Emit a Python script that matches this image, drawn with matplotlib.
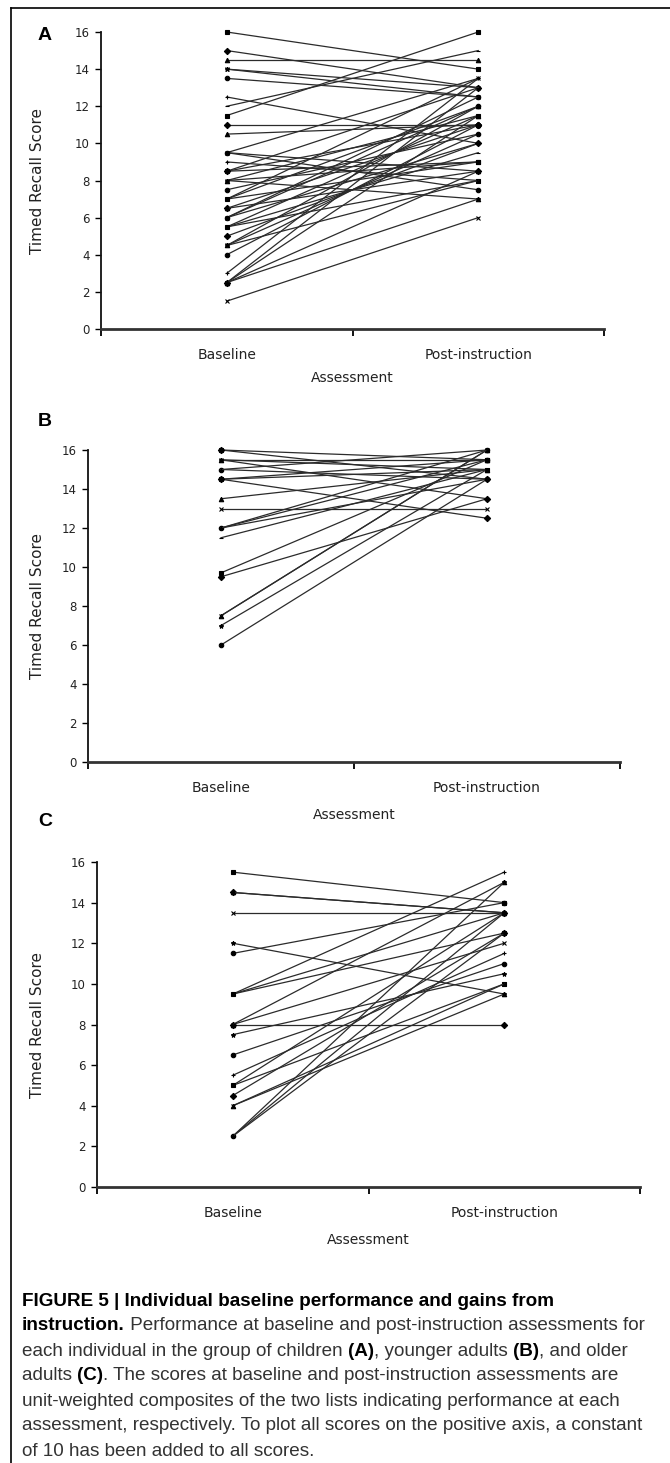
import numpy as np
import matplotlib.pyplot as plt
import matplotlib
from matplotlib.lines import Line2D

matplotlib.rcParams.update({
    "font.family": "DejaVu Sans",
    "axes.linewidth": 1.3,
})

# --- data: (baseline, post-instruction) per individual ---
a_base = [16, 15, 14.5, 14, 14, 13.5, 12.5, 12, 11.5, 11, 10.5, 9.5, 9.5, 9.5, 9,
          8.5, 8.5, 8.5, 8, 8, 8, 7.5, 7, 7, 7, 6.5, 6.5, 6, 6, 6, 5.5, 5.5, 5.5,
          5, 4.5, 4.5, 4.5, 4, 3, 2.5, 2.5, 2.5, 2.5, 1.5]
a_post = [14, 13, 14.5, 13, 12.5, 12.5, 10, 15, 16, 11, 11, 13.5, 8.5, 7.5, 8,
          13, 9, 11, 11.5, 9, 7, 10.5, 12, 13.5, 9, 11, 8.5, 12.5, 10, 12, 11.5, 9.5, 8,
          10, 12, 8, 10.5, 11, 13.5, 13, 11.5, 8.5, 7, 6]

b_base = [16, 16, 15.5, 15.5, 15.5, 15, 15, 14.5, 14.5, 14.5, 13.5, 13, 12, 12, 12,
          11.5, 9.7, 9.5, 7.5, 7.5, 7, 6]
b_post = [15.5, 14.5, 15.5, 15, 13.5, 16, 14.5, 15.5, 15, 12.5, 15, 13, 16, 15.5, 14.5,
          15, 15.5, 13.5, 16, 16, 15, 14.5]

c_base = [15.5, 14.5, 14.5, 13.5, 12, 11.5, 9.5, 9.5, 9.5, 8, 8, 8, 7.5, 6.5, 5.5,
          5, 5, 4.5, 4, 4, 2.5, 2.5, 2.5]
c_post = [14, 13.5, 13.5, 13.5, 9.5, 14, 15.5, 13.5, 12.5, 8, 15, 12, 10.5, 11, 11.5,
          13.5, 10, 12.5, 9.5, 10, 15, 13.5, 12.5]

panels = [
    ("A", a_base, a_post),
    ("B", b_base, b_post),
    ("C", c_base, c_post),
]
categories = ["Baseline", "Post-instruction"]
yticks = [0, 2, 4, 6, 8, 10, 12, 14, 16]

W, H = 670, 1463
# axes boxes in pixels: left, right, top(16), bottom(0)
boxes = [(101, 604, 32, 329), (88, 620, 450, 762), (97, 640, 862, 1187)]
letter_y = [35, 422, 822]
xlabel_y = [378, 815, 1240]

markers = ['s', 'D', '^', 'x', '*', 'o', '+', '_']

fig = plt.figure(figsize=(W / 100, H / 100), dpi=100)

for (letter, base, post), (l, r, t, b), ly, xly in zip(panels, boxes, letter_y, xlabel_y):
    ax = fig.add_axes([l / W, 1 - b / H, (r - l) / W, (b - t) / H])
    for i, (y0, y1) in enumerate(zip(base, post)):
        ax.plot([0.5, 1.5], [y0, y1], color='#2b2b2b', lw=0.9,
                marker=markers[i % len(markers)], ms=3.2, mew=0.8,
                mfc='black', mec='black', clip_on=False)
    ax.set_xlim(0, 2)
    ax.set_ylim(0, 16)
    for s in ['top', 'right']:
        ax.spines[s].set_visible(False)
    ax.spines['left'].set_color('#111111')
    ax.spines['bottom'].set_color('#333333')
    ax.spines['bottom'].set_linewidth(2.0)
    ax.set_yticks(yticks)
    ax.tick_params(axis='y', direction='out', length=4, width=1, labelsize=8.5,
                   labelcolor='#222222', pad=4)
    # category boundaries as major ticks, names as minor labels
    ax.set_xticks([0, 1, 2])
    ax.set_xticklabels([])
    ax.set_xticks([0.5, 1.5], minor=True)
    ax.set_xticklabels(categories, minor=True)
    ax.tick_params(axis='x', which='major', direction='out', length=5, width=1.3)
    ax.tick_params(axis='x', which='minor', length=0, labelsize=10,
                   labelcolor='#222222', pad=14)
    ax.set_ylabel("Timed Recall Score", fontsize=11, color='#222222')
    ax.yaxis.set_label_coords((45 - l) / (r - l), 0.5)
    ax.set_xlabel("Assessment", fontsize=10, color='#222222')
    ax.xaxis.set_label_coords(0.5, -(xly - b) / (b - t))
    ax.xaxis.label.set_va('center')
    fig.text(45 / W, 1 - ly / H, letter, fontsize=14, fontweight='bold',
             family='Liberation Sans', ha='center', va='center')

# frame around the figure (left and top edges)
fig.add_artist(Line2D([11 / W, 11 / W], [0, 1 - 8 / H], color='black', lw=1.2,
                      transform=fig.transFigure))
fig.add_artist(Line2D([11 / W, 1], [1 - 8 / H, 1 - 8 / H], color='black', lw=1.2,
                      transform=fig.transFigure))

# caption, with bold parts
caption_lines = [
    [("FIGURE 5 | Individual baseline performance and gains from", True)],
    [("instruction.", True), (" Performance at baseline and post-instruction assessments for", False)],
    [("each individual in the group of children ", False), ("(A)", True), (", younger adults ", False),
     ("(B)", True), (", and older", False)],
    [("adults ", False), ("(C)", True), (". The scores at baseline and post-instruction assessments are", False)],
    [("unit-weighted composites of the two lists indicating performance at each", False)],
    [("assessment, respectively. To plot all scores on the positive axis, a constant", False)],
    [("of 10 has been added to all scores.", False)],
]
cap_ax = fig.add_axes([0, 0, 1, 1])
cap_ax.axis('off')
y0 = 1301
for k, segs in enumerate(caption_lines):
    y = 1 - (y0 + 25 * k) / H
    prev = None
    for txt, bold in segs:
        kw = dict(fontsize=13.6, family='Liberation Sans', va='center', ha='left',
                  fontweight='bold' if bold else 'normal',
                  color='black' if bold else '#333333')
        if prev is None:
            prev = cap_ax.annotate(txt, xy=(22 / W, y), xycoords='figure fraction', **kw)
        else:
            prev = cap_ax.annotate(txt, xy=(1, 0.5), xycoords=prev, **kw)

fig.savefig("out.png", dpi=100)
